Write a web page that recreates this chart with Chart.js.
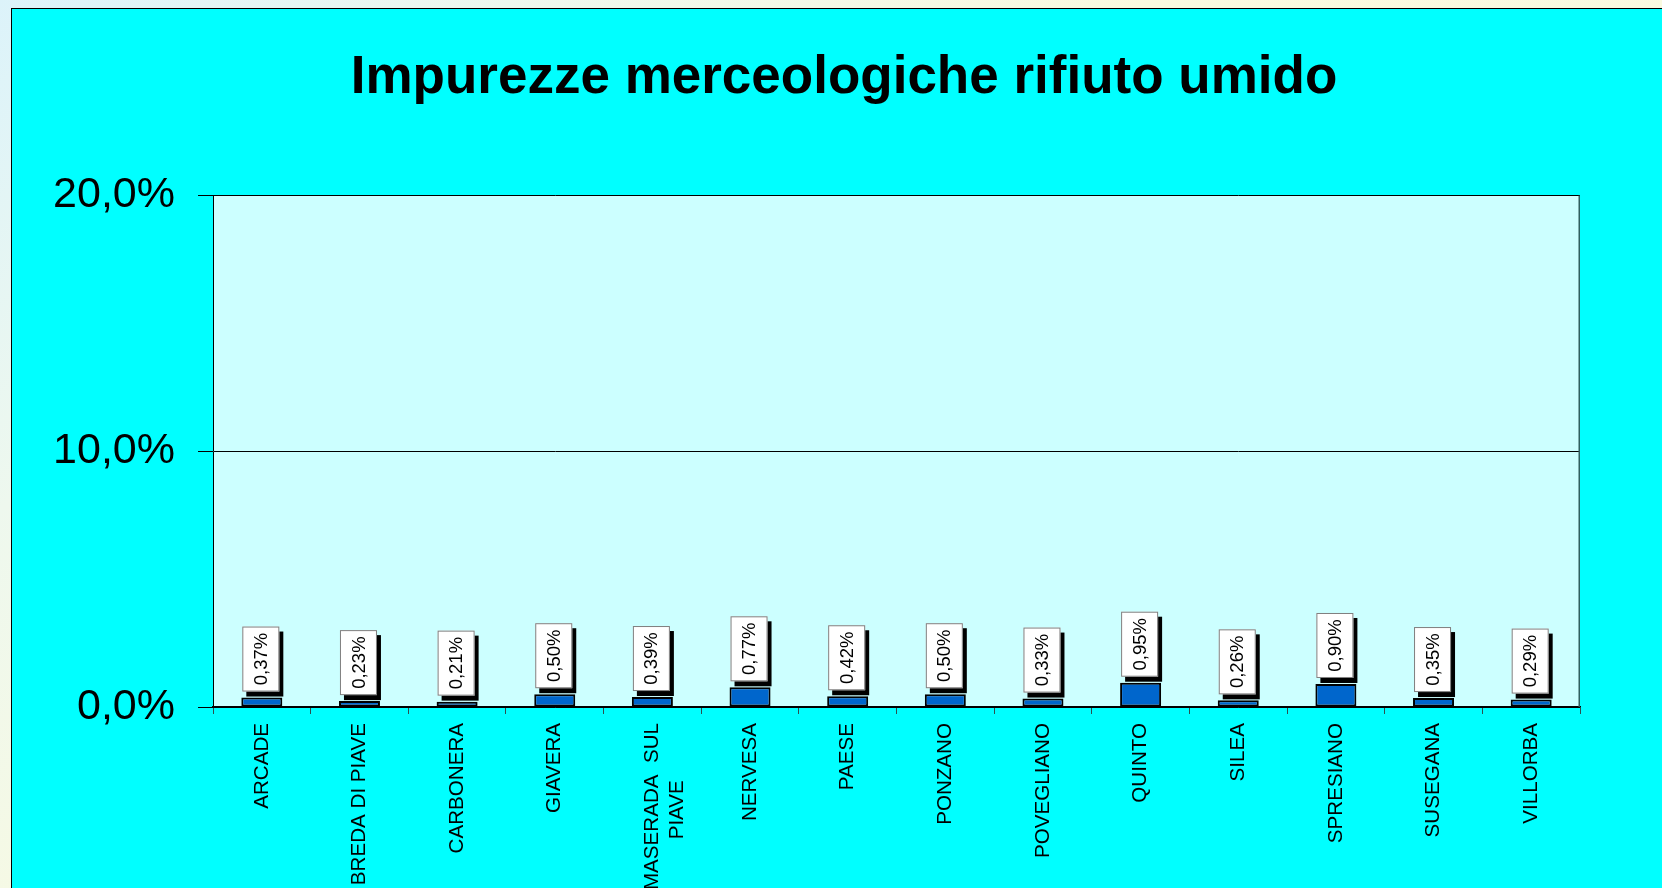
<!DOCTYPE html>
<html>
<head>
<meta charset="utf-8">
<script src="https://cdn.jsdelivr.net/npm/chart.js@4/dist/chart.umd.min.js"></script>
<style>
  html, body { margin: 0; padding: 0; width: 1662px; height: 888px; overflow: hidden; }
  body { background: linear-gradient(135deg, #dcf3fa 0%, #eef8ee 20%, #fafadf 45%, #f8f9e2 100%); position: relative; }
  #frame { position: absolute; left: 11px; top: 8px; width: 1700px; height: 920px; background: #00ffff; border-left: 1px solid #000; border-top: 1px solid #000; }
  #wrap { position: absolute; left: 0; top: 0; width: 1662px; height: 888px; }
</style>
</head>
<body>
<div id="frame"></div>
<div id="wrap"><canvas id="c" width="1662" height="888"></canvas></div>
<script>
// ---- data ----
const categories = ["ARCADE", "BREDA DI PIAVE", "CARBONERA", "GIAVERA", ["MASERADA  SUL", "PIAVE          "], "NERVESA", "PAESE", "PONZANO", "POVEGLIANO", "QUINTO", "SILEA", "SPRESIANO", "SUSEGANA", "VILLORBA"];
const impurezze = [0.37, 0.23, 0.21, 0.50, 0.39, 0.77, 0.42, 0.50, 0.33, 0.95, 0.26, 0.90, 0.35, 0.29];
const yTicks = [0, 10, 20];
const titleText = "Impurezze merceologiche rifiuto umido";

const FONT = "'Liberation Sans', Arial, Helvetica, sans-serif";

const fmtPct = (v, d) => v.toFixed(d).replace('.', ',') + '%';

const plotBg = {
  id: 'plotBg',
  beforeDraw(chart) {
    const a = chart.chartArea, ctx = chart.ctx;
    ctx.save();
    ctx.fillStyle = '#ccffff';
    ctx.fillRect(a.left, a.top, a.right - a.left, a.bottom - a.top);
    ctx.restore();
  },
  afterDraw(chart) {
    const a = chart.chartArea, ctx = chart.ctx;
    ctx.save();
    ctx.strokeStyle = '#2f5f5f';
    ctx.lineWidth = 1.5;
    ctx.beginPath();
    ctx.moveTo(a.right - 0.75, a.top);
    ctx.lineTo(a.right - 0.75, a.bottom);
    ctx.stroke();
    ctx.restore();
  }
};

const boxLabels = {
  id: 'boxLabels',
  afterDatasetsDraw(chart) {
    const ctx = chart.ctx;
    const meta = chart.getDatasetMeta(0);
    const data = chart.data.datasets[0].data;
    const w = 37, h = 65, sx = 4, sy = 5;
    meta.data.forEach((bar, i) => {
      const cx = bar.x, top = bar.y;
      const bottom = top - 6;
      const left = cx - w / 2 - 1, t = bottom - h;
      ctx.save();
      ctx.fillStyle = '#000';
      ctx.fillRect(left + sx, t + sy, w, h);
      ctx.fillStyle = '#fff';
      ctx.fillRect(left, t, w, h);
      ctx.strokeStyle = '#7f7f7f';
      ctx.lineWidth = 1;
      ctx.strokeRect(left + 0.5, t + 0.5, w - 1, h - 1);
      ctx.translate(left + w / 2 + 1, t + h / 2);
      ctx.rotate(-Math.PI / 2);
      ctx.fillStyle = '#000';
      ctx.font = '18.5px ' + FONT;
      ctx.textAlign = 'center';
      ctx.textBaseline = 'middle';
      ctx.fillText(fmtPct(data[i], 2), 0, 0);
      ctx.restore();
    });
  }
};

new Chart(document.getElementById('c'), {
  type: 'bar',
  data: {
    labels: categories,
    datasets: [{
      data: impurezze,
      yAxisID: 'y',
      backgroundColor: '#0066cc',
      borderColor: '#000000',
      borderWidth: 2,
      borderSkipped: false,
      categoryPercentage: 1,
      barPercentage: 0.42
    }]
  },
  options: {
    responsive: false,
    animation: false,
    devicePixelRatio: 1,
    layout: { padding: { left: 26, right: 0, top: 0, bottom: 0 } },
    plugins: {
      legend: { display: false },
      tooltip: { enabled: false },
      title: {
        display: true,
        text: titleText,
        color: '#000',
        font: { family: FONT, size: 53, weight: 'bold', lineHeight: 1.2 },
        padding: { top: 47, bottom: 85 }
      }
    },
    scales: {
      x: {
        grid: { offset: true, drawOnChartArea: false, tickLength: 7, color: '#2f4f4f', lineWidth: 1 },
        border: { display: true, color: '#000', width: 1.5 },
        ticks: {
          autoSkip: false, maxRotation: 90, minRotation: 90, padding: 9,
          color: '#000', font: { family: FONT, size: 20.6, lineHeight: 1.2 }
        },
        afterFit(s) { s.height = 181; }
      },
      y: {
        position: 'left',
        min: 0, max: 20,
        afterBuildTicks(s) { s.ticks = yTicks.map(v => ({ value: v })); },
        grid: { color: '#000', lineWidth: 1, tickLength: 15, drawTicks: true },
        border: { display: true, color: '#000', width: 1 },
        ticks: {
          padding: 23, color: '#000',
          font: { family: FONT, size: 43 },
          callback: v => fmtPct(v, 1)
        },
        afterFit(s) { s.width = 187; }
      },
      spacer: {
        type: 'linear',
        position: 'right',
        display: true,
        grid: { display: false, drawTicks: false },
        border: { display: false },
        ticks: { display: false },
        afterFit(s) { s.width = 82; }
      }
    }
  },
  plugins: [plotBg, boxLabels]
});
</script>
</body>
</html>
